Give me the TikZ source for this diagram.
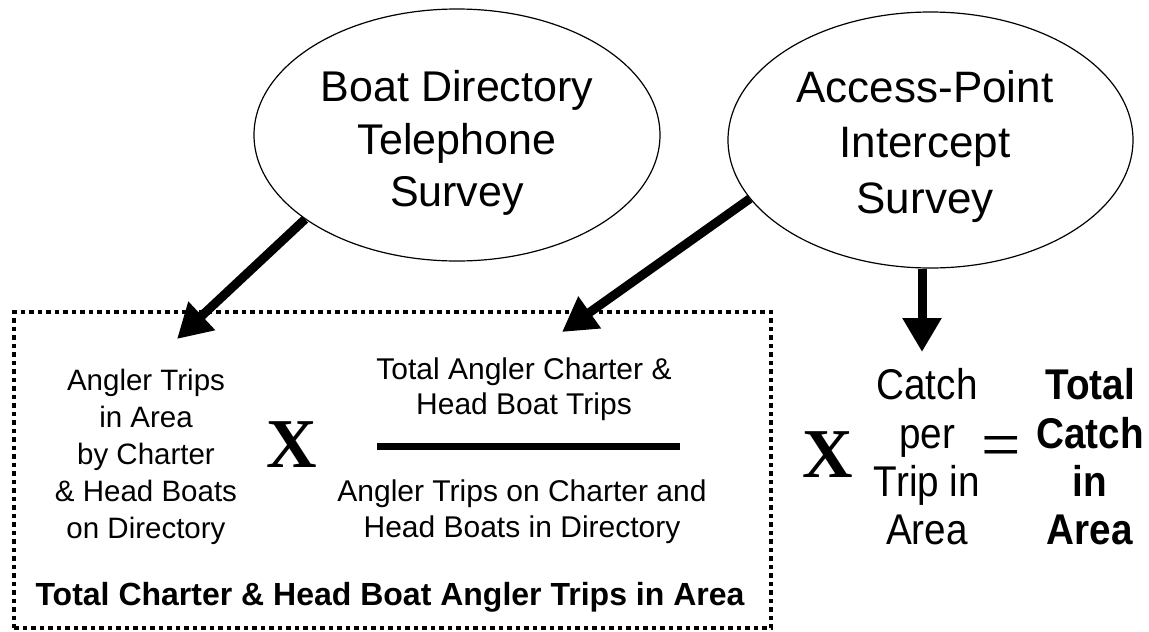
\documentclass[tikz,border=0pt]{standalone}
\usepackage{fontspec}
\setmainfont{Liberation Sans}
\newfontfamily\narrowfont[FakeStretch=0.9]{Liberation Sans}
\newfontfamily\romanfont{Liberation Serif}
\usetikzlibrary{shapes.geometric,arrows.meta}
\begin{document}
\begin{tikzpicture}[x=1pt,y=-1pt,
  survey/.style={draw, ellipse, line width=1.2pt, inner sep=0pt},
  textblk/.style={anchor=north, inner sep=0pt, align=center},
  bigarrow/.style={line width=9pt, -{Triangle[width=37pt,length=34pt]}},
  dotbox/.style={draw, line width=4.5pt, dash pattern=on 4.5pt off 4pt, inner sep=0pt},
  bigx/.style={anchor=base, inner sep=0pt, font=\romanfont\bfseries\fontsize{70}{70}\selectfont}
]
\useasboundingbox (0,0) rectangle (1149,632);

% survey ellipses
\node[survey, minimum width=406pt, minimum height=252pt] (e1) at (457,135) {};
\node[survey, minimum width=405pt, minimum height=256pt] (e2) at (930.5,140) {};
\node[textblk, font=\fontsize{43}{52.5}\selectfont] (e1t) at (457,70.6) {Boat Directory\\Telephone\\Survey};
\node[textblk, font=\fontsize{44}{55.5}\selectfont] (e2t) at (925,70) {Access-Point\\Intercept\\Survey};

% dotted box
\node[dotbox, minimum width=757pt, minimum height=316pt] (box) at (392.5,470) {};

% left factor
\node[textblk, font=\fontsize{29.5}{37}\selectfont] (trips) at (146,368.5)
  {Angler Trips\\in Area\\by Charter\\\& Head Boats\\on Directory};
\node[bigx] (x1) at (292,467) {X};

% fraction
\node[textblk, font=\fontsize{30}{35}\selectfont] (num) at (524,358)
  {Total Angler Charter \&\\Head Boat Trips};
\coordinate (barL) at (377,446.5);
\coordinate (barR) at (680,446.5);
\draw[line width=7pt] (barL) -- (barR);
\node[textblk, font=\fontsize{30}{36}\selectfont] (den) at (522,480)
  {Angler Trips on Charter and\\Head Boats in Directory};

\node[anchor=base, inner sep=0pt, font=\fontsize{32}{32}\selectfont\bfseries] (total) at (390,605)
  {Total Charter \& Head Boat Angler Trips in Area};

% right part
\node[bigx] (x2) at (828,477) {X};
\node[textblk, font=\narrowfont\fontsize{43}{48.3}\selectfont] (cpt) at (927,368.6)
  {Catch\\per\\Trip in\\Area};
\node[inner sep=0pt, font=\romanfont\fontsize{70}{70}\selectfont] (eq) at (1001,452) {=};
\node[textblk, font=\narrowfont\bfseries\fontsize{43}{48.3}\selectfont] (tca) at (1090,368.6)
  {Total\\Catch\\in\\Area};

% arrows
\coordinate (t1) at (177,339);
\coordinate (t2) at (562,332);
\coordinate (t3) at (922,352);
\draw[bigarrow] (e1.209) -- (t1);
\draw[bigarrow] (e2.198) -- (t2);
\draw[bigarrow] (e2.south -| t3) -- (t3);
\end{tikzpicture}
\end{document}
